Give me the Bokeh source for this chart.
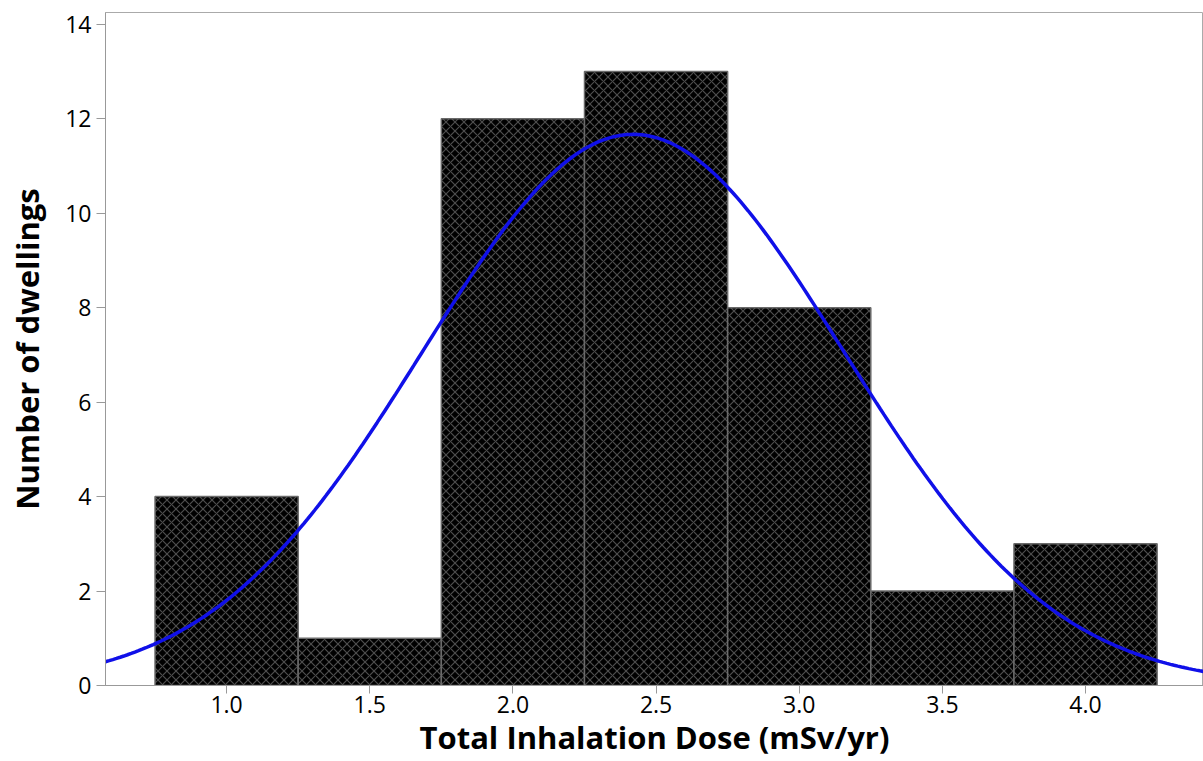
import numpy as np
from bokeh.plotting import figure
from bokeh.models import ColumnDataSource, Range1d, FixedTicker
from bokeh.embed import file_html
from bokeh.resources import INLINE

# Histogram data
bin_left = [0.75, 1.25, 1.75, 2.25, 2.75, 3.25, 3.75]
bin_right = [1.25, 1.75, 2.25, 2.75, 3.25, 3.75, 4.25]
counts = [4, 1, 12, 13, 8, 2, 3]

# Normal fit parameters
fit_mean = 2.42
fit_sd = 0.735
bin_width = 0.5

x_ticks = [1.0, 1.5, 2.0, 2.5, 3.0, 3.5, 4.0]
y_ticks = [0, 2, 4, 6, 8, 10, 12, 14]

p = figure(width=1203, height=761, output_backend="svg", toolbar_location=None,
           x_range=Range1d(0.577, 4.412), y_range=Range1d(0, 14.25),
           min_border_left=105, min_border_right=0, min_border_top=12, min_border_bottom=76)

src = ColumnDataSource(dict(left=bin_left, right=bin_right, top=counts))
p.quad(left="left", right="right", bottom=0, top="top", source=src,
       fill_color="black", line_color="#6a6a6a", line_width=1.5,
       hatch_pattern="diagonal_cross", hatch_color="white", hatch_alpha=0.3,
       hatch_scale=9, hatch_weight=1.2)

xs = np.linspace(0.577, 4.412, 300)
n_total = sum(counts)
ys = n_total * bin_width / (fit_sd * np.sqrt(2 * np.pi)) * np.exp(-0.5 * ((xs - fit_mean) / fit_sd) ** 2)
p.line(xs, ys, line_color="#1010e8", line_width=3.5)

p.xgrid.visible = False
p.ygrid.visible = False
p.outline_line_color = "#aaaaaa"

for ax in (p.xaxis[0], p.yaxis[0]):
    ax.axis_line_color = "#999999"
    ax.major_tick_line_color = "#999999"
    ax.minor_tick_line_color = None
    ax.major_tick_in = 0
    ax.major_tick_out = 9
    ax.major_label_text_font = "Open Sans"
    ax.major_label_text_font_size = "23px"
    ax.major_label_text_color = "black"
    ax.axis_label_text_font = "Open Sans"
    ax.axis_label_text_font_size = "31px"
    ax.axis_label_text_font_style = "bold"
    ax.axis_label_text_color = "black"

p.xaxis.ticker = FixedTicker(ticks=x_ticks)
p.yaxis.ticker = FixedTicker(ticks=y_ticks)
p.xaxis.major_label_overrides = {t: f"{t:.1f}" for t in x_ticks}
p.xaxis.axis_label = "Total Inhalation Dose (mSv/yr)"
p.yaxis.axis_label = "Number of dwellings"
p.xaxis.major_tick_out = 8
p.xaxis.major_label_standoff = 2
p.yaxis.major_label_standoff = 5
p.xaxis.axis_label_standoff = 0
p.yaxis.axis_label_standoff = 14

open("out.html", "w").write(file_html(p, INLINE))
